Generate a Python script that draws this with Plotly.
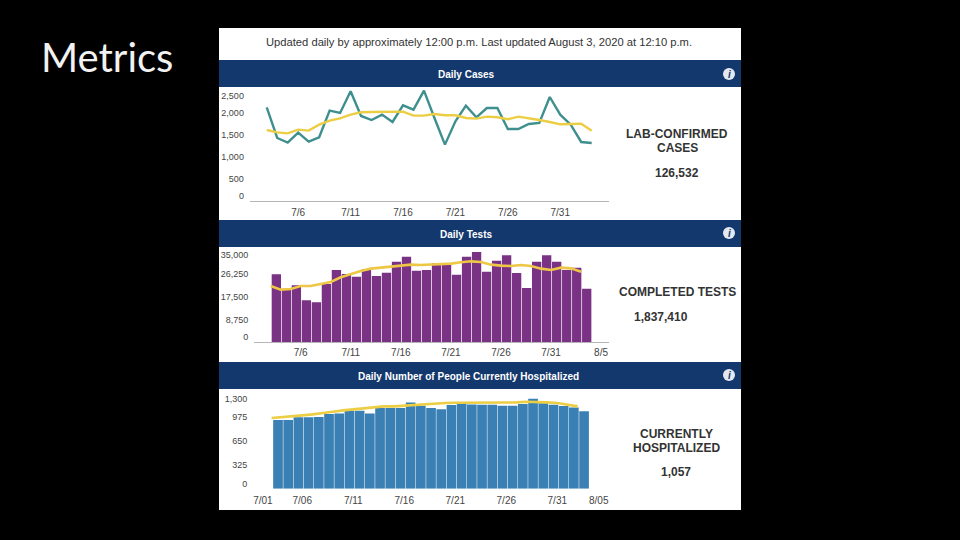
import plotly.graph_objects as go
import pandas as pd

W, H = 960, 540
FONT = "Liberation Sans"

dates_32 = [d.strftime("%Y-%m-%d") for d in pd.date_range("2020-07-03", "2020-08-03")]
dates_31 = dates_32[:31]

cases = [2136, 1439, 1333, 1561, 1356, 1455, 2061, 2008, 2500, 1939, 1848, 1970, 1803, 2182, 2083, 2515,
         1894, 1288, 1818, 2174, 1909, 2121, 2121, 1644, 1644, 1758, 1780, 2371, 1970, 1742, 1348, 1326]
cases_avg = [1621, 1568, 1545, 1629, 1606, 1742, 1833, 1886, 1970, 2023, 2030, 2038, 2045, 2038, 1947, 1947,
             1985, 1955, 1955, 1894, 1879, 1924, 1909, 1864, 1924, 1894, 1848, 1803, 1750, 1758, 1765, 1606]
tests = [26054, 20307, 21839, 16092, 15326, 22350, 27714, 26181, 25160, 27969, 25415, 26692, 30907, 32823, 27458, 27714,
         30268, 29757, 25926, 32823, 34611, 27075, 31290, 33333, 26564, 20817, 30907, 33333, 30907, 27714, 28608, 20562]
tests_avg = [21584, 20179, 20434, 21584, 21584, 22350, 23116, 24904, 26181, 27331, 28225, 28608, 28863, 29246, 29757, 29630,
             29757, 30013, 30140, 30651, 31034, 30779, 29757, 29374, 29246, 29630, 29246, 28225, 27714, 28608, 28352, 27075]
hosp = [936, 936, 973, 973, 977, 1018, 1027, 1064, 1064, 1027, 1100, 1100, 1100, 1177, 1132, 1100,
        1082, 1141, 1177, 1150, 1145, 1145, 1132, 1132, 1155, 1227, 1164, 1145, 1127, 1109, 1057]
hosp_avg = [964, 973, 986, 1000, 1014, 1036, 1050, 1068, 1082, 1091, 1114, 1123, 1123, 1132, 1145, 1159,
            1168, 1168, 1173, 1173, 1177, 1177, 1177, 1177, 1177, 1186, 1186, 1177, 1168, 1145, 1123]

cases_ticks = ["0", "500", "1,000", "1,500", "2,000", "2,500"]
tests_ticks = ["0", "8,750", "17,500", "26,250", "35,000"]
hosp_ticks = ["0", "325", "650", "975", "1,300"]
x_ticks_short = ["7/6", "7/11", "7/16", "7/21", "7/26", "7/31"]
x_ticks_hosp = ["7/01", "7/06", "7/11", "7/16", "7/21", "7/26", "7/31", "8/05"]

NAVY = "#12386d"
TEAL = "#3f8f8f"
YELLOW = "#ecce45"
PURPLE = "#7a3285"
BLUE = "#3a80b4"
TXT = "#444444"
DAY = 86400000


def px(v):
    return v / W


def py(v):
    return 1 - v / H


fig = go.Figure()
fig.add_trace(go.Scatter(x=dates_32, y=cases, mode="lines", line=dict(color=TEAL, width=2.4), xaxis="x", yaxis="y"))
fig.add_trace(go.Scatter(x=dates_32, y=cases_avg, mode="lines", line=dict(color=YELLOW, width=2.4), xaxis="x", yaxis="y"))
fig.add_trace(go.Bar(x=dates_32, y=tests, marker=dict(color=PURPLE, line_width=0), width=0.93 * DAY, offset=0.1 * DAY,
                     xaxis="x2", yaxis="y2"))
fig.add_trace(go.Scatter(x=dates_32, y=tests_avg, mode="lines", line=dict(color="#edc745", width=2.6), xaxis="x2", yaxis="y2"))
fig.add_trace(go.Bar(x=dates_31, y=hosp, marker=dict(color=BLUE, line_width=0), width=0.95 * DAY, offset=0.15 * DAY,
                     xaxis="x3", yaxis="y3"))
fig.add_trace(go.Scatter(x=dates_31, y=hosp_avg, mode="lines", line=dict(color=YELLOW, width=2.6), xaxis="x3", yaxis="y3"))

x_tick_font = dict(family=FONT, size=10, color=TXT)
y_tick_font = dict(family=FONT, size=9, color=TXT)


def xaxis(left, right, rng, tickvals, ticktext, line, anchor, ticklen):
    return dict(domain=[px(left), px(right)], range=rng, type="date", tickmode="array", tickvals=tickvals,
                ticktext=ticktext, tickfont=x_tick_font, ticks="outside", ticklen=ticklen, tickcolor="rgba(0,0,0,0)",
                showgrid=False, zeroline=False, showline=line, linecolor="#b5b5b5", linewidth=1, anchor=anchor)


def yaxis(top, bottom, rng, tickvals, ticktext, anchor, ticklen):
    return dict(domain=[py(bottom), py(top)], range=rng, tickmode="array", tickvals=tickvals, ticktext=ticktext,
                tickfont=y_tick_font, ticks="outside", ticklen=ticklen, tickcolor="rgba(0,0,0,0)",
                showgrid=False, zeroline=False, showline=False, anchor=anchor)


layout_axes = dict(
    xaxis=xaxis(249.7, 609, ["2020-07-01 09:00", "2020-08-04 15:36"],
                ["2020-07-06", "2020-07-11", "2020-07-16", "2020-07-21", "2020-07-26", "2020-07-31"], x_ticks_short, True, "y", 2),
    yaxis=yaxis(87, 201.3, [0, 2598], [129, 500, 1000, 1500, 2000, 2402], cases_ticks, "x", 3),
    xaxis2=xaxis(254, 609, ["2020-07-01 08:00", "2020-08-05 19:00"],
                 ["2020-07-06", "2020-07-11", "2020-07-16", "2020-07-21", "2020-07-26", "2020-07-31", "2020-08-05"],
                 x_ticks_short + ["8/5"], True, "y2", 1),
    yaxis2=yaxis(247, 342.3, [0, 36526], [2171, 8750, 17500, 26250, 33461], tests_ticks, "x2", 3),
    xaxis3=xaxis(254, 609, ["2020-07-01 06:30", "2020-08-05 01:40"],
                 ["2020-07-02 03:30", "2020-07-06", "2020-07-11", "2020-07-16", "2020-07-21", "2020-07-26", "2020-07-31",
                  "2020-08-04 01:30"], x_ticks_hosp, False, "y3", 2),
    yaxis3=yaxis(388.7, 488.7, [0, 1364], [64, 325, 650, 975, 1227], hosp_ticks, "x3", 4),
)


def rect(x0, y0, x1, y1, color):
    return dict(type="rect", xref="paper", yref="paper", x0=px(x0), x1=px(x1), y0=py(y1), y1=py(y0),
                fillcolor=color, line_width=0, layer="below")


shapes = [rect(219, 28, 741, 510, "white"),
          rect(219, 60, 741, 87, NAVY),
          rect(219, 220, 741, 247, NAVY),
          rect(219, 362, 741, 389, NAVY)]
for cy in (74, 233, 375):
    shapes.append(dict(type="circle", xref="paper", yref="paper", x0=px(723), x1=px(735), y0=py(cy + 6), y1=py(cy - 6),
                       fillcolor="#e4e9f0", line_width=0, layer="below"))


def label(x, y, text, size=12, color="#333333", bold=False, family=FONT, italic=False):
    t = text
    if bold:
        t = "<b>" + t + "</b>"
    if italic:
        t = "<i>" + t + "</i>"
    return dict(xref="paper", yref="paper", x=px(x), y=py(y), text=t, showarrow=False, xanchor="center", yanchor="middle",
                font=dict(family=family, size=size, color=color), align="center")


annotations = [
    label(107, 57, "Metrics", size=40, color="#f2f2f2", family="Lato"),
    label(479, 42, "Updated daily by approximately 12:00 p.m. Last updated August 3, 2020 at 12:10 p.m.", size=11.2, color="#333333"),
    label(466, 74, "Daily Cases", size=10, color="white", bold=True),
    label(466, 234, "Daily Tests", size=10, color="white", bold=True),
    label(468, 376, "Daily Number of People Currently Hospitalized", size=10, color="white", bold=True),
    label(677, 134, "LAB-CONFIRMED", size=12, bold=True),
    label(677, 148, "CASES", size=12, bold=True),
    label(677, 173, "126,532", size=12, bold=True),
    label(677, 292, "COMPLETED TESTS", size=12, bold=True),
    label(661, 317, "1,837,410", size=12, bold=True),
    label(676, 434, "CURRENTLY", size=12, bold=True),
    label(676, 448, "HOSPITALIZED", size=12, bold=True),
    label(676, 472, "1,057", size=12, bold=True),
]
for cy in (74, 233, 375):
    annotations.append(label(729, cy, "i", size=10, color=NAVY, bold=True, italic=True))

fig.update_layout(width=W, height=H, margin=dict(l=0, r=0, t=0, b=0, pad=0), paper_bgcolor="black",
                  plot_bgcolor="rgba(0,0,0,0)", showlegend=False, barmode="overlay", shapes=shapes,
                  annotations=annotations, **layout_axes)

fig.write_html("out.html", config={"displayModeBar": False},
               post_script="document.body.style.margin='0';document.body.style.background='black';")
